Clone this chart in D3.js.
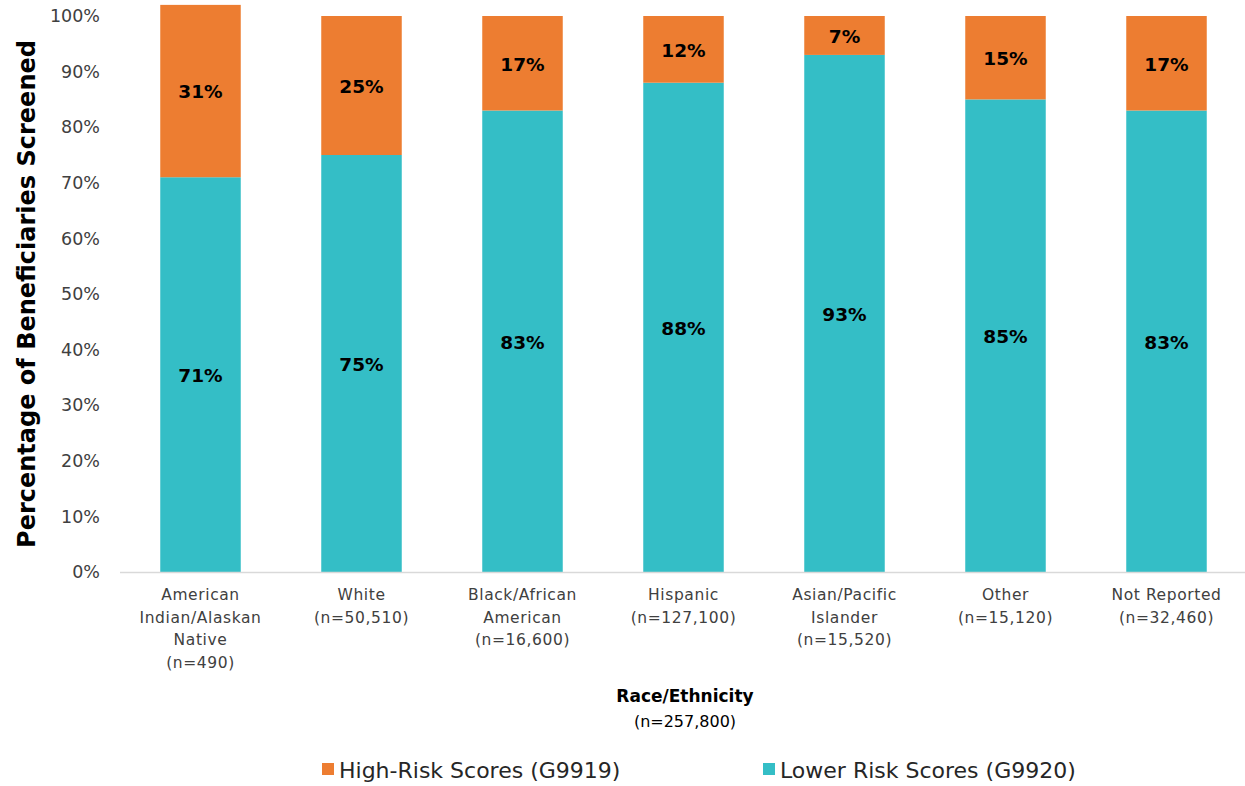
<!DOCTYPE html>
<html>
<head>
<meta charset="utf-8">
<script src="https://cdn.jsdelivr.net/npm/d3@7"></script>
<style>
  html, body { margin: 0; padding: 0; background: #fff; }
  svg { display: block; font-family: "DejaVu Sans", "Noto Sans", sans-serif; }
</style>
</head>
<body>
<svg id="chart" width="1245" height="786"></svg>
<script>
// Race/ethnicity groups, each with its wrapped label lines
const categories = ["American Indian/Alaskan Native", "White", "Black/African American", "Hispanic", "Asian/Pacific Islander", "Other", "Not Reported"];
const categoryLines = [
  ["American", "Indian/Alaskan", "Native", "(n=490)"],
  ["White", "(n=50,510)"],
  ["Black/African", "American", "(n=16,600)"],
  ["Hispanic", "(n=127,100)"],
  ["Asian/Pacific", "Islander", "(n=15,520)"],
  ["Other", "(n=15,120)"],
  ["Not Reported", "(n=32,460)"]
];
// Percent of beneficiaries screened, by risk score
const lowerRisk = [71, 75, 83, 88, 93, 85, 83];
const highRisk = [31, 25, 17, 12, 7, 15, 17];
const yTicks = [0, 10, 20, 30, 40, 50, 60, 70, 80, 90, 100];
const seriesNames = ["High-Risk Scores (G9919)", "Lower Risk Scores (G9920)"];

const colors = { high: "#ED7D31", low: "#34BEC6" };
const svg = d3.select("#chart");
const margin = { left: 120, right: 1247, top: 16, bottom: 572 };

const x = d3.scaleBand().domain(categories).range([margin.left, margin.right]).paddingInner(0.5).paddingOuter(0.25);
const y = d3.scaleLinear().domain([0, 100]).range([margin.bottom, margin.top]);

const rows = categories.map((c, i) => ({ cat: c, low: lowerRisk[i], high: highRisk[i], lines: categoryLines[i] }));

// Y axis tick labels
const yAxis = svg.append("g")
  .attr("transform", `translate(${margin.left},0)`)
  .call(d3.axisLeft(y).tickValues(yTicks).tickFormat(d => d + "%").tickSize(0).tickPadding(20));
yAxis.select(".domain").remove();
yAxis.selectAll("text")
  .attr("font-family", "DejaVu Sans, sans-serif")
  .attr("font-size", 17.5)
  .attr("fill", "#404040");

// Stacked bars
const bars = svg.append("g");
bars.selectAll("rect.low").data(rows).join("rect")
  .attr("class", "low")
  .attr("x", d => x(d.cat)).attr("width", x.bandwidth())
  .attr("y", d => y(d.low)).attr("height", d => y(0) - y(d.low))
  .attr("fill", colors.low);
bars.selectAll("rect.high").data(rows).join("rect")
  .attr("class", "high")
  .attr("x", d => x(d.cat)).attr("width", x.bandwidth())
  .attr("y", d => y(d.low + d.high)).attr("height", d => y(d.low) - y(d.low + d.high))
  .attr("fill", colors.high);

// Segment value labels
const labels = svg.append("g")
  .attr("font-weight", "bold").attr("font-size", 18.5).attr("fill", "#000")
  .attr("text-anchor", "middle");
labels.selectAll("text.low").data(rows).join("text")
  .attr("x", d => x(d.cat) + x.bandwidth() / 2)
  .attr("y", d => y(d.low / 2)).attr("dy", "0.4em")
  .text(d => d.low + "%");
labels.selectAll("text.high").data(rows).join("text")
  .attr("x", d => x(d.cat) + x.bandwidth() / 2)
  .attr("y", d => y(d.low + d.high / 2)).attr("dy", "0.4em")
  .text(d => d.high + "%");

// X axis baseline
const xAxis = svg.append("g")
  .attr("transform", `translate(0,${y(0)})`)
  .call(d3.axisBottom(x).tickSize(0).tickFormat(""));
xAxis.select(".domain").attr("stroke", "#d9d9d9").attr("stroke-width", 1.3)
  .attr("d", `M${margin.left},0.5H${margin.right}`);

// Multi-line category labels
const catLabels = svg.append("g").attr("font-size", 15.5).attr("letter-spacing", 0.6)
  .attr("fill", "#404040").attr("text-anchor", "middle");
rows.forEach(d => {
  const t = catLabels.append("text")
    .attr("x", x(d.cat) + x.bandwidth() / 2)
    .attr("y", 600);
  d.lines.forEach((line, j) => {
    t.append("tspan").attr("x", x(d.cat) + x.bandwidth() / 2).attr("y", 600 + j * 22.7).text(line);
  });
});

// Axis titles
svg.append("text")
  .attr("transform", `translate(35,294) rotate(-90)`)
  .attr("text-anchor", "middle").attr("font-weight", "bold").attr("font-size", 24).attr("fill", "#000")
  .text("Percentage of Beneficiaries Screened");
svg.append("text")
  .attr("x", 685).attr("y", 702).attr("text-anchor", "middle")
  .attr("font-weight", "bold").attr("font-size", 17).attr("fill", "#000")
  .text("Race/Ethnicity");
svg.append("text")
  .attr("x", 685).attr("y", 727).attr("text-anchor", "middle")
  .attr("font-size", 16).attr("fill", "#000")
  .text("(n=257,800)");

// Legend
const legendItems = [
  { name: seriesNames[0], color: colors.high, x: 322 },
  { name: seriesNames[1], color: colors.low, x: 763 }
];
const legend = svg.append("g");
legendItems.forEach(item => {
  legend.append("rect").attr("x", item.x).attr("y", 763).attr("width", 12).attr("height", 12).attr("fill", item.color);
  legend.append("text").attr("x", item.x + 17).attr("y", 778)
    .attr("font-size", 22).attr("fill", "#262626")
    .text(item.name);
});
</script>
</body>
</html>
